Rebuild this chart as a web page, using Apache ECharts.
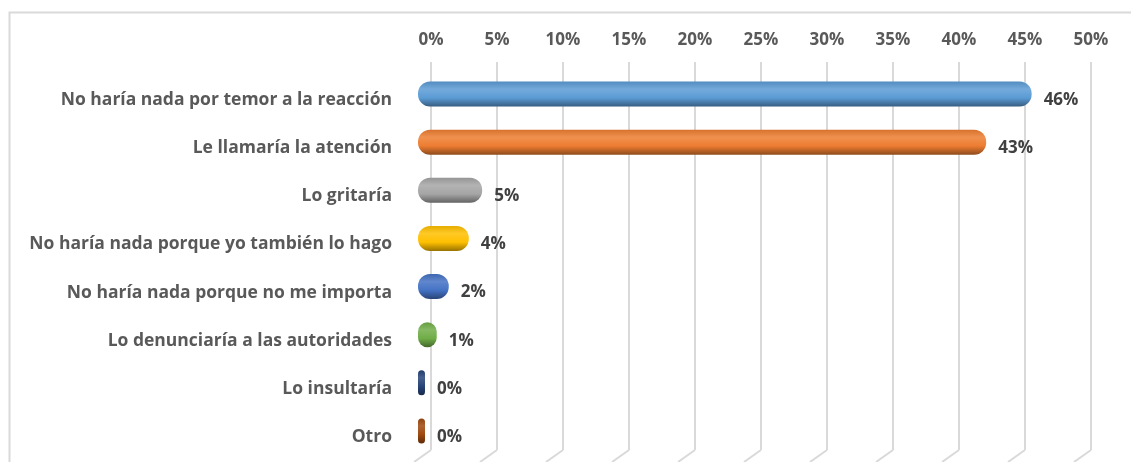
<!DOCTYPE html>
<html>
<head>
<meta charset="utf-8">
<script src="https://cdn.jsdelivr.net/npm/echarts@6/dist/echarts.min.js"></script>
<style>
  html, body { margin: 0; padding: 0; background: #fff; }
  #chart { width: 1131px; height: 462px; }
</style>
</head>
<body>
<div id="chart"></div>
<script>
// respuestas y porcentajes
var categorias = [
    'No haría nada por temor a la reacción',
    'Le llamaría la atención',
    'Lo gritaría',
    'No haría nada porque yo también lo hago',
    'No haría nada porque no me importa',
    'Lo denunciaría a las autoridades',
    'Lo insultaría',
    'Otro'
];
var porcentajes = [45.9, 42.5, 4.8, 3.8, 2.3, 1.4, 0.2, 0.1];
var colores = ['#5B9BD5', '#ED7D31', '#A5A5A5', '#FFC000', '#4472C4', '#70AD47', '#264478', '#9E480E'];
var ticksEje = [0, 5, 10, 15, 20, 25, 30, 35, 40, 45, 50];

var fuente = '"Open Sans", "Noto Sans", sans-serif';

function tono(hex, f) {
    // aclara (f>0) u oscurece (f<0) un color
    var n = parseInt(hex.slice(1), 16);
    var c = [(n >> 16) & 255, (n >> 8) & 255, n & 255].map(function (v) {
        v = f > 0 ? v + (255 - v) * f : v * (1 + f);
        return Math.round(v);
    });
    return 'rgb(' + c.join(',') + ')';
}

function relleno(hex) {
    return new echarts.graphic.LinearGradient(0, 0, 0, 1, [
        {offset: 0, color: tono(hex, -0.1)},
        {offset: 0.3, color: tono(hex, 0.15)},
        {offset: 0.65, color: hex},
        {offset: 1, color: tono(hex, -0.4)}
    ]);
}

var chart = echarts.init(document.getElementById('chart'));

var datos = porcentajes.map(function (v, i) {
    return {value: v, itemStyle: {color: relleno(colores[i])}};
});

chart.setOption({
    animation: false,
    grid: [
        // cuadrícula y eje superior
        {left: 431, right: 40, top: 62, bottom: 12},
        // barras (en perspectiva, un poco desplazadas)
        {left: 418, right: 40, top: 70, height: 385},
        // etiquetas de categoría
        {left: 418, right: 40, top: 76, height: 385}
    ],
    xAxis: [
        {
            gridIndex: 0, type: 'value', position: 'top',
            min: 0, max: 50, interval: 5,
            axisLine: {show: false}, axisTick: {show: false},
            axisLabel: {
                formatter: '{value}%', margin: 13,
                color: '#595959', fontSize: 17, fontWeight: 'bold', fontFamily: fuente
            },
            splitLine: {lineStyle: {color: '#d9d9d9', width: 2}}
        },
        {gridIndex: 1, type: 'value', show: false, min: 0, max: 50.34},
        {gridIndex: 2, type: 'value', show: false, min: 0, max: 50}
    ],
    yAxis: [
        {gridIndex: 0, type: 'value', show: false},
        {gridIndex: 1, type: 'category', data: categorias, inverse: true, show: false},
        {
            gridIndex: 2, type: 'category', data: categorias, inverse: true,
            axisLine: {show: false}, axisTick: {show: false},
            axisLabel: {
                margin: 26,
                color: '#595959', fontSize: 17.5, fontWeight: 'bold', fontFamily: fuente
            }
        }
    ],
    series: [{
        type: 'bar',
        xAxisIndex: 1, yAxisIndex: 1,
        data: datos,
        barWidth: 25,
        barMinHeight: 7,
        itemStyle: {borderRadius: 12},
        label: {
            show: true, position: 'right', distance: 12, offset: [0, 6],
            formatter: function (p) { return Math.round(p.value) + '%'; },
            color: '#404040', fontSize: 17, fontWeight: 'bold', fontFamily: fuente
        }
    }]
});

// marco y suelo en perspectiva de las líneas de cuadrícula
var fondo = [{
    type: 'polyline', silent: true,
    shape: {points: [[9.5, 470], [9.5, 12.5], [1140, 12.5]]},
    style: {stroke: '#d9d9d9', lineWidth: 2, fill: null}
}];
ticksEje.forEach(function (t) {
    var x = chart.convertToPixel({xAxisIndex: 0}, t);
    fondo.push({
        type: 'line', silent: true,
        shape: {x1: x, y1: 450, x2: x - 17, y2: 462},
        style: {stroke: '#d9d9d9', lineWidth: 2}
    });
});
chart.setOption({graphic: fondo});
</script>
</body>
</html>
